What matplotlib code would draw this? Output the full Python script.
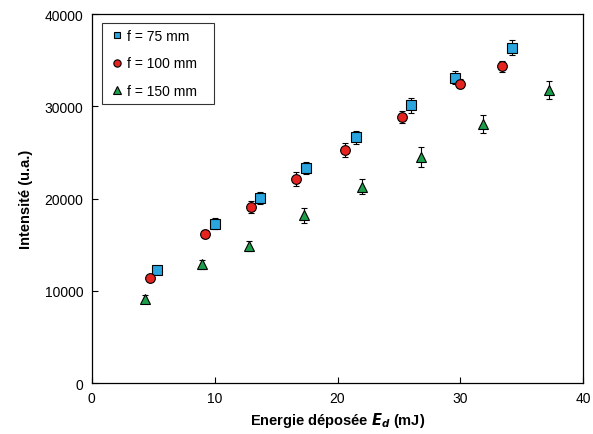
import matplotlib
matplotlib.use("Agg")
import matplotlib.pyplot as plt

plt.rcParams['font.family'] = ['Liberation Sans', 'DejaVu Sans']

# f = 75 mm
e_75 = [5.3, 10.0, 13.7, 17.4, 21.5, 26.0, 29.55, 34.2]
i_75 = [12250, 17250, 20100, 23300, 26650, 30100, 33100, 36350]
err_75 = [400, 600, 650, 630, 700, 800, 700, 780]

# f = 100 mm
e_100 = [4.75, 9.2, 13.0, 16.65, 20.6, 25.25, 30.0, 33.4]
i_100 = [11400, 16150, 19050, 22100, 25250, 28850, 32450, 34330]
err_100 = [300, 400, 650, 720, 760, 680, 500, 600]

# f = 150 mm
e_150 = [4.3, 9.0, 12.8, 17.3, 22.0, 26.8, 31.8, 37.2]
i_150 = [9150, 12850, 14850, 18200, 21300, 24500, 28100, 31800]
err_150 = [400, 500, 560, 810, 850, 1060, 950, 975]

fig = plt.figure(figsize=(5.93, 4.35), dpi=100)
ax = fig.add_axes([0.1546, 0.1172, 0.8291, 0.8483])

series = [
    (e_75, i_75, err_75, 's', '#2aa5de', 'f = 75 mm', 6.5),
    (e_100, i_100, err_100, 'o', '#e52420', 'f = 100 mm', 7),
    (e_150, i_150, err_150, '^', '#1c9e4b', 'f = 150 mm', 7.5),
]
for x, y, err, mk, col, lab, ms in series:
    ax.errorbar(x, y, yerr=err, fmt='none', ecolor='black', elinewidth=0.8,
                capsize=2.5, capthick=0.8, zorder=2)
    ax.plot(x, y, linestyle='none', marker=mk, markersize=ms,
            markerfacecolor=col, markeredgecolor='black', markeredgewidth=0.8,
            label=lab, zorder=3)

ax.set_xlim(0, 40)
ax.set_ylim(0, 40000)
ax.set_xticks([0, 10, 20, 30, 40])
ax.set_yticks([0, 10000, 20000, 30000, 40000])
ax.tick_params(direction='in', length=4, width=0.8, labelsize=10, pad=6)
for s in ax.spines.values():
    s.set_linewidth(0.9)

ax.set_xlabel(r'Energie déposée $\mathbfit{E}_{\mathbfit{d}}$ (mJ)', fontsize=10.5,
              fontweight='bold', labelpad=3)
ax.set_ylabel('Intensité (u.a.)', fontsize=10.5, fontweight='bold', labelpad=8)

leg = ax.legend(loc='upper left', bbox_to_anchor=(0.0203, 0.5, 0.2285, 0.4756),
                mode='expand', frameon=True, fancybox=False, edgecolor='black',
                fontsize=10, markerscale=0.75, handletextpad=0.05,
                handlelength=1.3, labelspacing=0.95, borderpad=0.45,
                borderaxespad=0)
leg.get_frame().set_linewidth(0.8)

fig.savefig('out.png', dpi=100)
